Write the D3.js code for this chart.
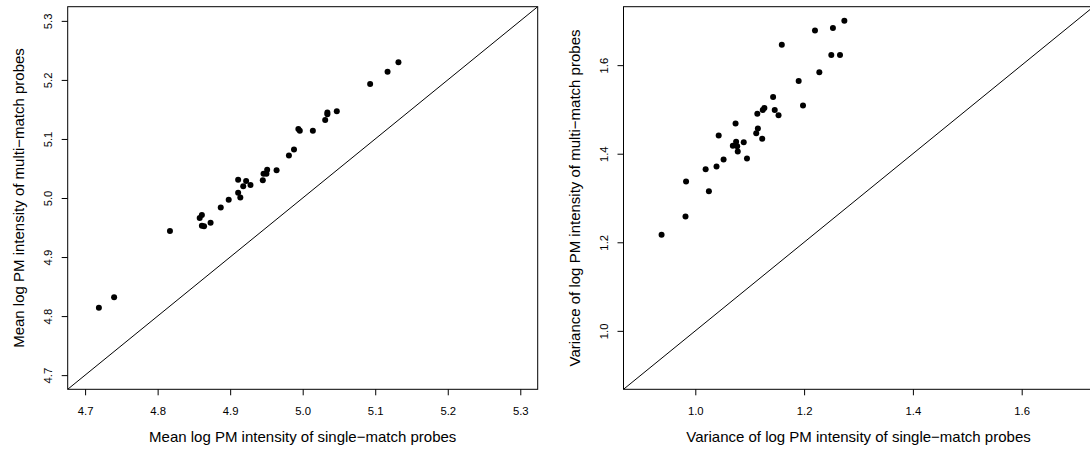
<!DOCTYPE html>
<html>
<head>
    <script src="https://d3js.org/d3.v7.min.js"></script>
    <style>
        body { margin: 0; background: #fff; }
        text { font-family: "Liberation Sans", Arial, sans-serif; fill: #000; }
    </style>
</head>
<body>
    <div id="chart"></div>
    <script>
        // mean log PM intensity, one point per array
        const singleMean = [4.719, 4.740, 4.817, 4.858, 4.861, 4.861, 4.864, 4.873, 4.887, 4.898,
            4.911, 4.911, 4.914, 4.918, 4.922, 4.928, 4.945, 4.946, 4.950, 4.951,
            4.964, 4.981, 4.988, 4.994, 4.996, 5.014, 5.031, 5.034, 5.034, 5.047,
            5.093, 5.117, 5.132];
        const multiMean = [4.814, 4.832, 4.944, 4.966, 4.971, 4.953, 4.952, 4.958, 4.984, 4.997,
            5.031, 5.009, 5.001, 5.020, 5.029, 5.022, 5.030, 5.041, 5.041, 5.048,
            5.047, 5.072, 5.082, 5.117, 5.114, 5.114, 5.132, 5.142, 5.145, 5.147,
            5.193, 5.214, 5.230];

        // variance of log PM intensity
        const singleVar = [0.938, 0.982, 0.983, 1.019, 1.025, 1.039, 1.043, 1.052, 1.069, 1.074,
            1.075, 1.077, 1.078, 1.089, 1.095, 1.112, 1.115, 1.114, 1.123, 1.124,
            1.127, 1.143, 1.146, 1.153, 1.159, 1.190, 1.198, 1.220, 1.228, 1.250,
            1.253, 1.266, 1.274];
        const multiVar = [1.217, 1.258, 1.337, 1.365, 1.315, 1.371, 1.441, 1.387, 1.418, 1.468,
            1.427, 1.417, 1.405, 1.426, 1.389, 1.446, 1.457, 1.490, 1.434, 1.499,
            1.503, 1.528, 1.499, 1.487, 1.646, 1.564, 1.509, 1.678, 1.584, 1.623,
            1.684, 1.623, 1.700];

        const meanTicks = [4.7, 4.8, 4.9, 5.0, 5.1, 5.2, 5.3];
        const varTicks = [1.0, 1.2, 1.4, 1.6];

        const meanLim = [4.7, 5.3];
        const varLim = [0.9, 1.7];

        const panels = [
            { xs: singleMean, ys: multiMean, lim: meanLim, ticks: meanTicks, left: 67.7,
              xlab: "Mean log PM intensity of single\u2212match probes",
              ylab: "Mean log PM intensity of multi\u2212match probes" },
            { xs: singleVar, ys: multiVar, lim: varLim, ticks: varTicks, left: 623.5,
              xlab: "Variance of log PM intensity of single\u2212match probes",
              ylab: "Variance of log PM intensity of multi\u2212match probes" }
        ];

        const width = 470, height = 382.6, plotTop = 6.7;

        const svg = d3.select("#chart")
            .append("svg")
            .attr("width", 1090)
            .attr("height", 450);

        panels.forEach(function (p, k) {
            // R style 4% extension of the limits
            const ext = (p.lim[1] - p.lim[0]) * 0.04;
            const dom = [p.lim[0] - ext, p.lim[1] + ext];

            const x = d3.scaleLinear().domain(dom).range([0, width]);
            const y = d3.scaleLinear().domain(dom).range([height, 0]);

            const g = svg.append("g")
                .attr("transform", "translate(" + p.left + "," + plotTop + ")");

            g.append("clipPath").attr("id", "clip" + k)
                .append("rect").attr("width", width).attr("height", height);

            // x axis
            const xAxis = g.append("g")
                .attr("transform", "translate(0," + height + ")")
                .call(d3.axisBottom(x).tickValues(p.ticks).tickFormat(d3.format(".1f")).tickSize(6));
            xAxis.select(".domain").remove();
            xAxis.selectAll("line").attr("stroke", "#000");
            xAxis.selectAll("text")
                .attr("y", 25.5).attr("dy", null)
                .style("font-size", "11.3px")
                .style("font-family", "'Liberation Sans', Arial, sans-serif");

            // y axis
            const yAxis = g.append("g")
                .call(d3.axisLeft(y).tickValues(p.ticks).tickFormat(d3.format(".1f")).tickSize(6));
            yAxis.select(".domain").remove();
            yAxis.selectAll("line").attr("stroke", "#000");
            yAxis.selectAll("text")
                .attr("x", null).attr("dy", null)
                .attr("text-anchor", "middle")
                .attr("transform", "translate(-15.4,0) rotate(-90)")
                .style("font-size", "11.3px")
                .style("font-family", "'Liberation Sans', Arial, sans-serif");

            // identity line
            g.append("line")
                .attr("clip-path", "url(#clip" + k + ")")
                .attr("x1", x(dom[0])).attr("y1", y(dom[0]))
                .attr("x2", x(dom[1])).attr("y2", y(dom[1]))
                .attr("stroke", "#000")
                .attr("stroke-width", 1);

            // points
            g.append("g")
                .selectAll("circle")
                .data(p.xs)
                .join("circle")
                .attr("cx", function (d) { return x(d); })
                .attr("cy", function (d, i) { return y(p.ys[i]); })
                .attr("r", 3)
                .attr("fill", "#000");

            // box
            g.append("rect")
                .attr("width", width).attr("height", height)
                .attr("fill", "none")
                .attr("stroke", "#000")
                .attr("stroke-width", 1);

            // axis titles
            g.append("text")
                .attr("x", width / 2)
                .attr("y", 442 - plotTop)
                .attr("text-anchor", "middle")
                .style("font-size", "15px")
                .text(p.xlab);

            g.append("text")
                .attr("transform", "translate(" + (24.5 - 67.7) + "," + (height / 2) + ") rotate(-90)")
                .attr("text-anchor", "middle")
                .style("font-size", "15px")
                .text(p.ylab);
        });
    </script>
</body>
</html>
